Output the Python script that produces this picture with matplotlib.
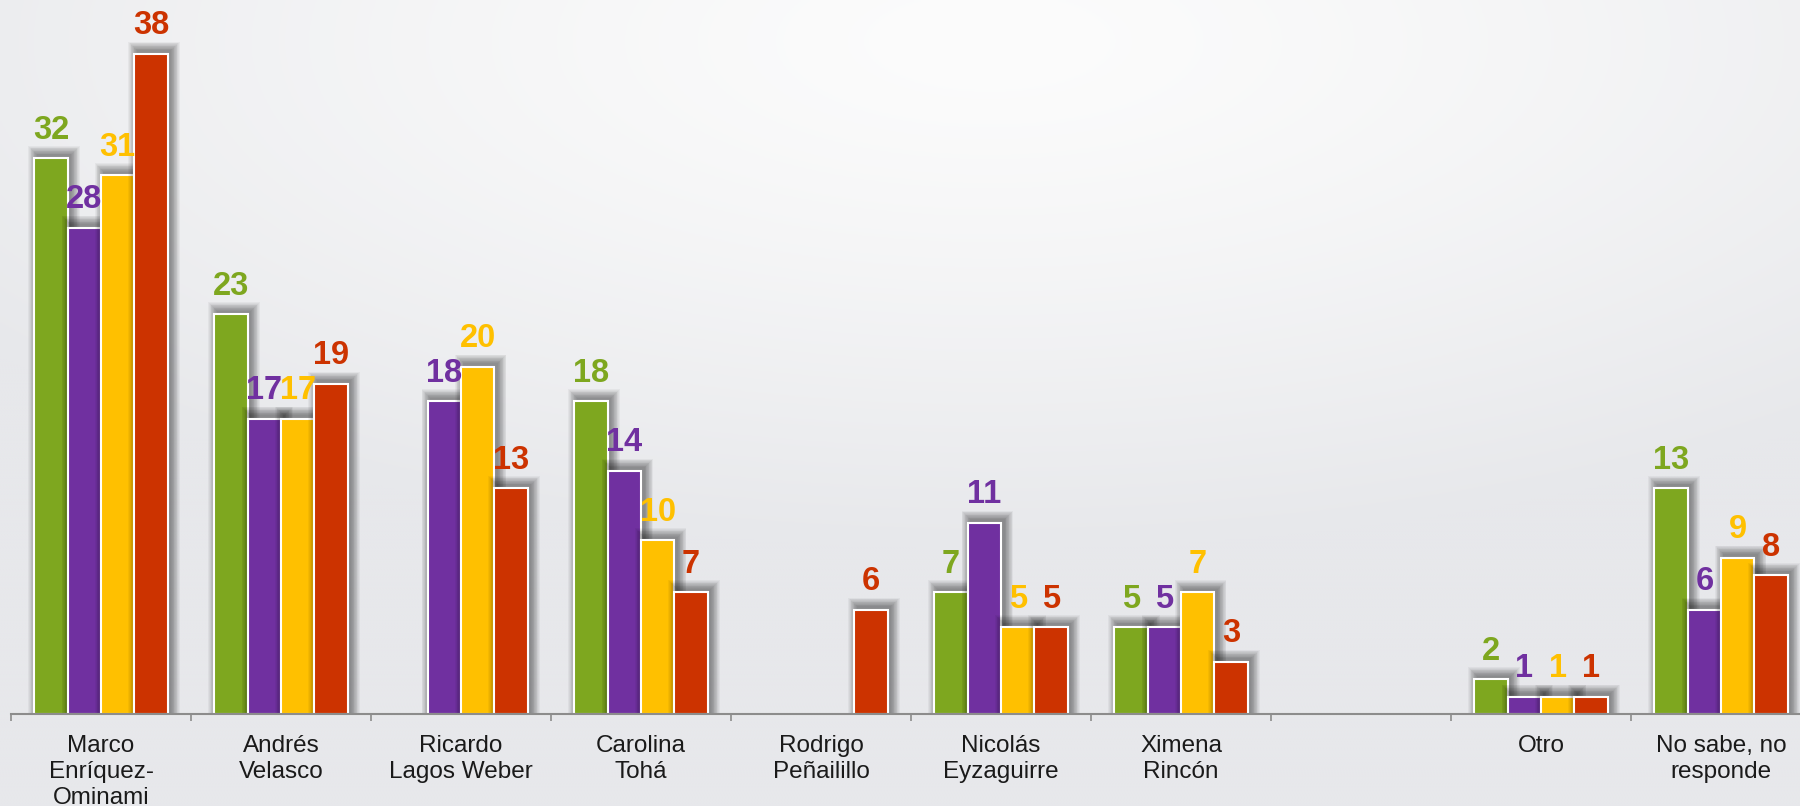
import numpy as np
import matplotlib.pyplot as plt

# data
categorias = ['Marco\nEnríquez-\nOminami', 'Andrés\nVelasco', 'Ricardo\nLagos Weber',
              'Carolina\nTohá', 'Rodrigo\nPeñailillo', 'Nicolás\nEyzaguirre',
              'Ximena\nRincón', '', 'Otro', 'No sabe, no\nresponde']
serie_verde = [32, 23, np.nan, 18, np.nan, 7, 5, np.nan, 2, 13]
serie_morada = [28, 17, 18, 14, np.nan, 11, 5, np.nan, 1, 6]
serie_amarilla = [31, 17, 20, 10, np.nan, 5, 7, np.nan, 1, 9]
serie_roja = [38, 19, 13, 7, 6, 5, 3, np.nan, 1, 8]

series = [serie_verde, serie_morada, serie_amarilla, serie_roja]
colores = ['#7ea71f', '#7030a0', '#ffc000', '#cc3300']

W, H = 1800, 806
fig = plt.figure(figsize=(W / 100, H / 100), dpi=100)

# fondo con degradado radial
bg = fig.add_axes([0, 0, 1, 1], zorder=0)
bg.axis('off')
yy, xx = np.mgrid[0:1:300j, 0:1:600j]
d = np.sqrt(((xx - 0.55) / 1.0) ** 2 + ((yy - 0.05) / 0.9) ** 2)
t = np.clip(d / 0.7, 0, 1) ** 1.3
centro = np.array([252, 252, 252]) / 255
borde = np.array([231, 232, 235]) / 255
img = centro[None, None, :] + (borde - centro)[None, None, :] * t[..., None]
bg.imshow(img, extent=[0, 1, 0, 1], aspect='auto', origin='upper')
bg.set_xlim(0, 1)
bg.set_ylim(0, 1)

ax = fig.add_axes([11 / W, 92 / H, 1800 / W, 714 / H], zorder=1)
ax.patch.set_alpha(0)
ax.set_xlim(-0.5, 9.5)
ax.set_ylim(0, 41.1)

x = np.arange(len(categorias))
ancho = 0.185

# pixeles -> unidades de datos
px_x = 10 / 1800
px_y = 41.1 / 714

for j, (vals, c) in enumerate(zip(series, colores)):
    xs = x + (j - 1.5) * ancho
    v = np.array(vals, dtype=float)
    # sombra difusa
    for e in np.arange(9, 0, -0.75):
        ax.bar(xs + 3 * px_x, v + (3 + e) * px_y, width=ancho + 2 * e * px_x,
               color='black', alpha=0.04, linewidth=0, zorder=2 + j * 2)
    ax.bar(xs, v, width=ancho, color=c, edgecolor='white', linewidth=1.5,
           zorder=3 + j * 2)
    for xi, vi in zip(xs, v):
        if np.isnan(vi):
            continue
        ax.annotate(f'{int(vi)}', (xi, vi), xytext=(0, 14), textcoords='offset points',
                    ha='center', va='baseline', fontsize=23.5, fontweight='bold',
                    color=c, family='Liberation Sans', zorder=20)

for s in ['top', 'right', 'left']:
    ax.spines[s].set_visible(False)
ax.spines['bottom'].set_color('#8c8c8c')
ax.spines['bottom'].set_linewidth(1.5)
ax.spines['bottom'].set_zorder(30)
ax.set_yticks([])

ax.set_xticks(x)
ax.set_xticklabels(categorias, fontsize=17.5, family='Liberation Sans',
                   color='#1a1a1a', linespacing=1.25)
ax.set_xticks(np.arange(-0.5, 10, 1), minor=True)
ax.tick_params(axis='x', which='major', length=0, pad=15)
ax.tick_params(axis='x', which='minor', length=5, width=1.2, color='#8c8c8c',
               direction='out')

fig.savefig('out.png', dpi=100)
